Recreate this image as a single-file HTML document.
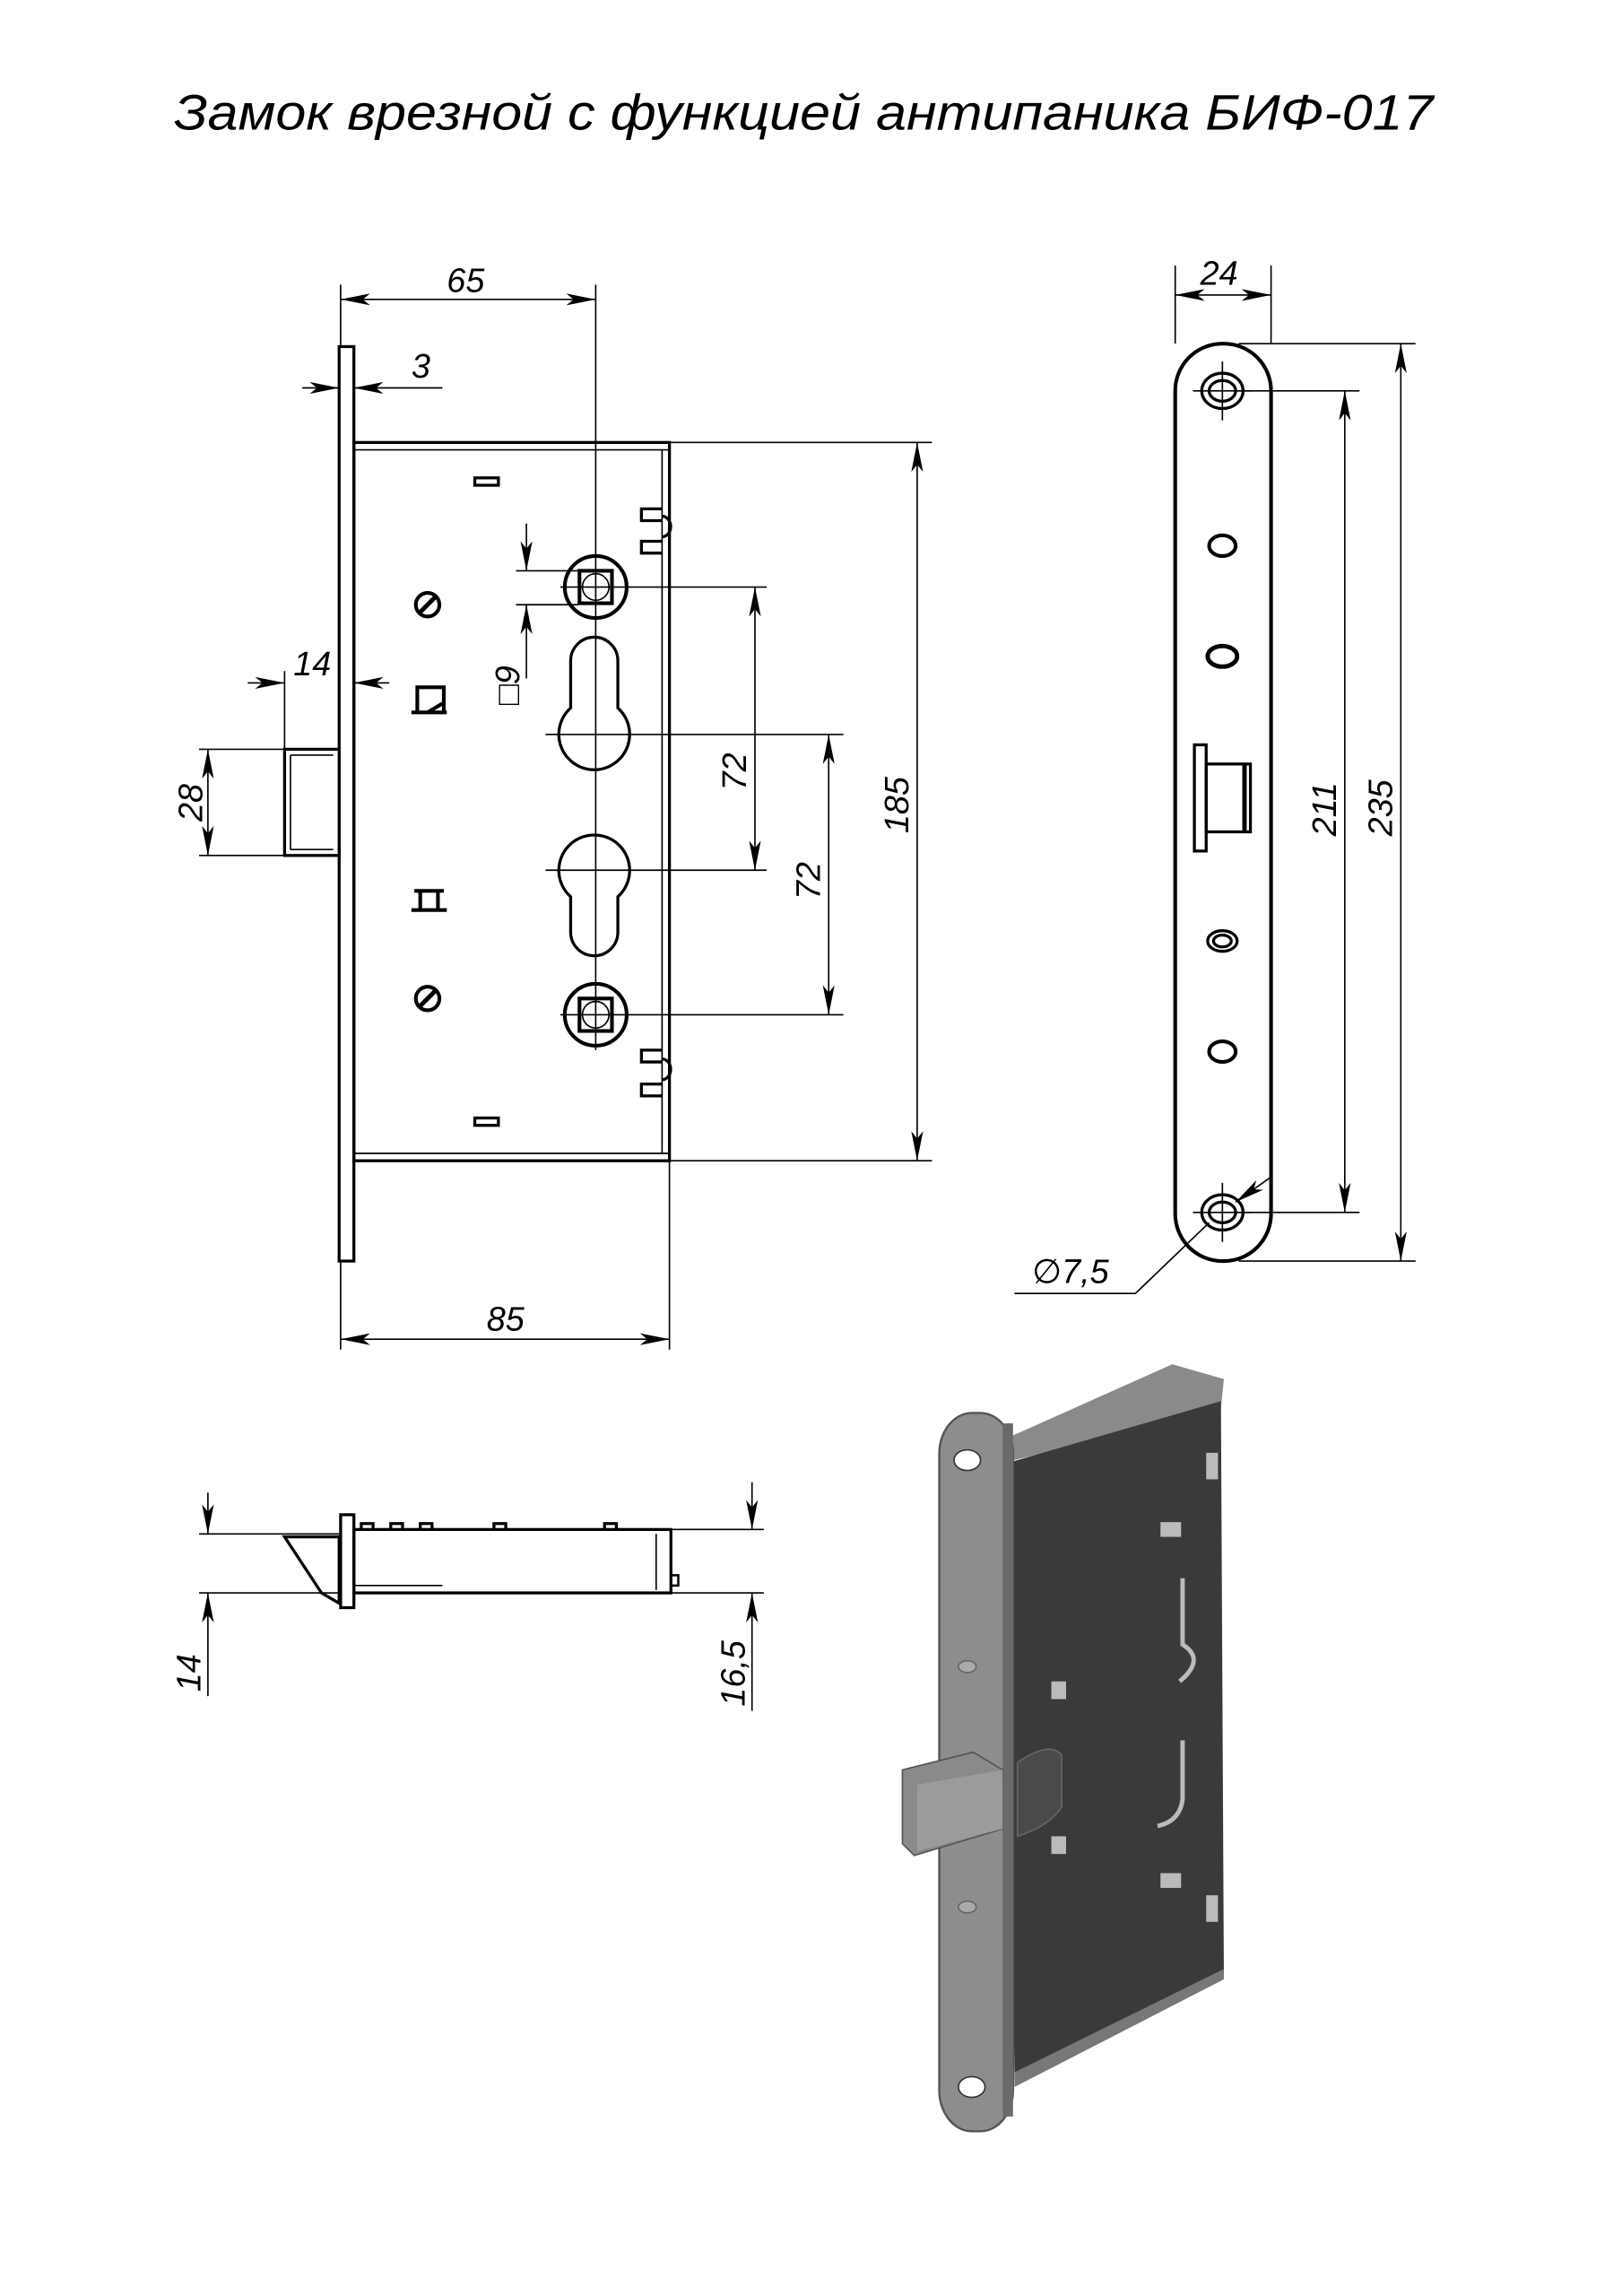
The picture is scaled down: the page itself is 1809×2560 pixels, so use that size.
<!DOCTYPE html>
<html><head><meta charset="utf-8"><style>
html,body{margin:0;padding:0;background:#fff;width:1809px;height:2560px;overflow:hidden}
svg{display:block}
text{font-family:"Liberation Sans","DejaVu Sans",sans-serif;font-style:italic;fill:#000}
</style></head><body>
<svg width="1809" height="2560" viewBox="0 0 1100 1556.7" preserveAspectRatio="none" xmlns="http://www.w3.org/2000/svg">
<defs>
<marker id="a" viewBox="0 0 20 8" refX="20" refY="4" markerWidth="20" markerHeight="8" markerUnits="userSpaceOnUse" orient="auto-start-reverse"><path d="M0,0 L20,4 L0,8 L5,4 Z" fill="#000"/></marker>
</defs>
<text x="118" y="88" font-size="34" textLength="854" lengthAdjust="spacingAndGlyphs">Замок врезной с функцией антипаника БИФ-017</text>

<g stroke="#000" fill="none" stroke-width="1">
<rect x="230" y="235" width="10" height="620" stroke-width="2" fill="#fff"/>
<rect x="240" y="300" width="214" height="487" stroke-width="2"/>
<line x1="240" y1="305" x2="454" y2="305"/><line x1="240" y1="782" x2="454" y2="782"/>
<line x1="449" y1="305" x2="449" y2="782"/>
<rect x="322" y="324" width="16" height="5" stroke-width="2"/>
<rect x="322" y="758" width="16" height="5" stroke-width="2"/>
<path d="M449,345 h-14 v8 h14 M449,367 h-14 v8 h14 M449,350 a5,6 0 0 1 0,14" stroke-width="2"/>
<path d="M449,712 h-14 v8 h14 M449,735 h-14 v8 h14 M449,718 a5,6 0 0 1 0,14" stroke-width="2"/>
<ellipse cx="290" cy="410" rx="8" ry="8" stroke-width="2.5"/><line x1="284" y1="416" x2="296" y2="404" stroke-width="3"/>
<ellipse cx="290" cy="677" rx="8" ry="8" stroke-width="2.5"/><line x1="284" y1="683" x2="296" y2="671" stroke-width="3"/>
<path d="M279,483 h24 M283,483 v-17 h18 v17 M290,483 l10,-6" stroke-width="2.5"/>
<path d="M279,617 h24 M281,604 h20 M285,604 v13 M297,604 v13" stroke-width="2.5"/>
<circle cx="404" cy="398" r="21" stroke-width="2.5"/><rect x="393" y="387" width="22" height="22" stroke-width="2.5"/><circle cx="404" cy="398" r="9"/>
<circle cx="404" cy="688" r="21" stroke-width="2.5"/><rect x="393" y="677" width="22" height="22" stroke-width="2.5"/><circle cx="404" cy="688" r="9"/>
<path d="M387,480 V448 a15,15 0 0 1 32,0 V480 a24,24 0 1 1 -32,0 Z" stroke-width="2"/>
<path d="M387,608 V632 a15,15 0 0 0 32,0 V608 a24,24 0 1 0 -32,0 Z" stroke-width="2"/>
<line x1="404" y1="193" x2="404" y2="712"/>
<line x1="231" y1="193" x2="231" y2="235"/>
<line x1="231" y1="203" x2="404" y2="203" marker-start="url(#a)" marker-end="url(#a)"/>
<line x1="205" y1="263" x2="230" y2="263" marker-end="url(#a)"/>
<line x1="262" y1="263" x2="240" y2="263" marker-end="url(#a)"/><line x1="262" y1="263" x2="300" y2="263"/>
<line x1="193" y1="455" x2="193" y2="508"/>
<line x1="168" y1="463" x2="193" y2="463" marker-end="url(#a)"/>
<line x1="264" y1="463" x2="240" y2="463" marker-end="url(#a)"/>
<rect x="193" y="508" width="37" height="72" stroke-width="2" fill="#fff"/>
<line x1="197" y1="512" x2="226" y2="512"/><line x1="197" y1="576" x2="226" y2="576"/><line x1="197" y1="512" x2="197" y2="576"/>
<line x1="135" y1="508" x2="193" y2="508"/><line x1="135" y1="580" x2="193" y2="580"/>
<line x1="141" y1="508" x2="141" y2="580" marker-start="url(#a)" marker-end="url(#a)"/>
<line x1="350" y1="387" x2="392" y2="387"/><line x1="350" y1="410" x2="392" y2="410"/>
<line x1="357" y1="355" x2="357" y2="387" marker-end="url(#a)"/>
<line x1="357" y1="460" x2="357" y2="410" marker-end="url(#a)"/>
<line x1="380" y1="398" x2="520" y2="398"/><line x1="370" y1="498" x2="572" y2="498"/>
<line x1="370" y1="590" x2="520" y2="590"/><line x1="380" y1="688" x2="572" y2="688"/>
<line x1="512" y1="398" x2="512" y2="590" marker-start="url(#a)" marker-end="url(#a)"/>
<line x1="562" y1="498" x2="562" y2="688" marker-start="url(#a)" marker-end="url(#a)"/>
<line x1="454" y1="300" x2="632" y2="300"/><line x1="454" y1="787" x2="632" y2="787"/>
<line x1="622" y1="300" x2="622" y2="787" marker-start="url(#a)" marker-end="url(#a)"/>
<line x1="231" y1="855" x2="231" y2="915"/><line x1="454" y1="787" x2="454" y2="915"/>
<line x1="231" y1="908" x2="454" y2="908" marker-start="url(#a)" marker-end="url(#a)"/>

<rect x="797" y="233" width="65" height="622" rx="32" ry="32" stroke-width="2.5" fill="#fff"/>
<line x1="797" y1="180" x2="797" y2="233"/><line x1="862" y1="180" x2="862" y2="233"/>
<line x1="797" y1="200" x2="862" y2="200" marker-start="url(#a)" marker-end="url(#a)"/>
<ellipse cx="829" cy="265" rx="14" ry="12" stroke-width="2"/><ellipse cx="829" cy="265" rx="9" ry="7" stroke-width="2"/>
<ellipse cx="829" cy="822" rx="14" ry="12" stroke-width="2"/><ellipse cx="829" cy="822" rx="9" ry="7" stroke-width="2"/>
<line x1="829" y1="245" x2="829" y2="285"/><line x1="809" y1="265" x2="849" y2="265"/>
<line x1="829" y1="802" x2="829" y2="842"/><line x1="809" y1="822" x2="849" y2="822"/>
<ellipse cx="829" cy="370" rx="9" ry="7" stroke-width="2.5"/>
<ellipse cx="829" cy="445" rx="10" ry="7" stroke-width="3"/>
<ellipse cx="829" cy="638" rx="10" ry="7" stroke-width="2"/><ellipse cx="829" cy="638" rx="6" ry="4" stroke-width="2"/>
<ellipse cx="829" cy="713" rx="9" ry="7" stroke-width="2.5"/>
<rect x="810" y="505" width="8" height="72" stroke-width="2"/>
<rect x="818" y="518" width="30" height="46" stroke-width="2"/>
<line x1="844" y1="518" x2="844" y2="564" stroke-width="3"/>
<line x1="840" y1="265" x2="922" y2="265"/><line x1="840" y1="822" x2="922" y2="822"/>
<line x1="912" y1="265" x2="912" y2="822" marker-start="url(#a)" marker-end="url(#a)"/>
<line x1="840" y1="233" x2="960" y2="233"/><line x1="840" y1="855" x2="960" y2="855"/>
<line x1="950" y1="233" x2="950" y2="855" marker-start="url(#a)" marker-end="url(#a)"/>
<line x1="862" y1="798" x2="838" y2="815" marker-end="url(#a)"/>
<polyline points="820,829 770,877 688,877"/>

<rect x="231" y="1027" width="9" height="63" stroke-width="2" fill="#fff"/>
<rect x="240" y="1037" width="215" height="43" stroke-width="2"/>
<path d="M245,1037 v-4 h8 v4 M265,1037 v-4 h8 v4 M285,1037 v-4 h8 v4 M335,1037 v-4 h8 v4 M410,1037 v-4 h8 v4" stroke-width="2"/>
<line x1="240" y1="1075" x2="300" y2="1075"/><line x1="445" y1="1040" x2="445" y2="1078"/>
<path d="M455,1068 h5 v7 h-5" stroke-width="1.5"/>
<path d="M193,1042 H230 V1087 L218,1080 Z" stroke-width="2"/>
<line x1="135" y1="1040" x2="230" y2="1040"/><line x1="135" y1="1080" x2="230" y2="1080"/>
<line x1="141" y1="1012" x2="141" y2="1040" marker-end="url(#a)"/>
<line x1="141" y1="1150" x2="141" y2="1080" marker-end="url(#a)"/>
<line x1="455" y1="1037" x2="518" y2="1037"/><line x1="455" y1="1080" x2="518" y2="1080"/>
<line x1="510" y1="1005" x2="510" y2="1037" marker-end="url(#a)"/>
<line x1="510" y1="1160" x2="510" y2="1080" marker-end="url(#a)"/>
</g>

<g font-size="23">
<text x="303" y="198">65</text>
<text x="279" y="256">3</text>
<text x="199" y="458">14</text>
<text x="330" y="902">85</text>
<text x="814" y="193">24</text>
<text x="700" y="870">∅7,5</text>
<text transform="translate(137,557) rotate(-90)">28</text>
<text transform="translate(352,478) rotate(-90)">□9</text>
<text transform="translate(506,536) rotate(-90)">72</text>
<text transform="translate(556,610) rotate(-90)">72</text>
<text transform="translate(616,565) rotate(-90)">185</text>
<text transform="translate(906,567) rotate(-90)">211</text>
<text transform="translate(944,567) rotate(-90)">235</text>
<text transform="translate(136,1147) rotate(-90)">14</text>
<text transform="translate(505,1157) rotate(-90)">16,5</text>
</g>

<g>
<polygon points="683,975 795,925 830,935 828,955 688,990" fill="#8a8a8a"/>
<polygon points="683,992 828,950 830,1340 688,1410" fill="#3a3a3a"/>
<polygon points="688,1405 830,1335 830,1342 688,1415" fill="#777"/>
<rect x="637" y="958" width="50" height="487" rx="22" ry="28" fill="#8d8d8d" stroke="#555" stroke-width="1.5"/>
<rect x="680" y="965" width="7" height="470" fill="#6a6a6a"/>
<ellipse cx="656" cy="990" rx="9" ry="7" fill="#fff" stroke="#333"/>
<ellipse cx="659" cy="1415" rx="9" ry="7" fill="#fff" stroke="#333"/>
<ellipse cx="656" cy="1130" rx="6" ry="4" fill="#aaa" stroke="#666"/>
<ellipse cx="656" cy="1293" rx="6" ry="4" fill="#aaa" stroke="#666"/>
<polygon points="612,1200 660,1188 680,1200 680,1240 620,1258 612,1250" fill="#8a8a8a" stroke="#555"/>
<polygon points="622,1210 680,1200 680,1240 622,1255" fill="#9b9b9b"/>
<path d="M690,1195 Q712,1180 720,1190 V1225 Q712,1238 690,1245 Z" fill="#4a4a4a" stroke="#666"/>
<rect x="787" y="1032" width="14" height="10" fill="#bbb"/>
<rect x="787" y="1270" width="14" height="10" fill="#bbb"/>
<rect x="713" y="1140" width="10" height="12" fill="#bbb"/>
<rect x="713" y="1245" width="10" height="12" fill="#bbb"/>
<path d="M802,1070 V1115 Q818,1125 800,1140" stroke="#bbb" stroke-width="3" fill="none"/>
<path d="M802,1180 V1220 Q800,1235 785,1238" stroke="#bbb" stroke-width="3" fill="none"/>
<rect x="818" y="985" width="8" height="18" fill="#bbb"/>
<rect x="818" y="1285" width="8" height="18" fill="#bbb"/>
</g>
</svg>
</body></html>
